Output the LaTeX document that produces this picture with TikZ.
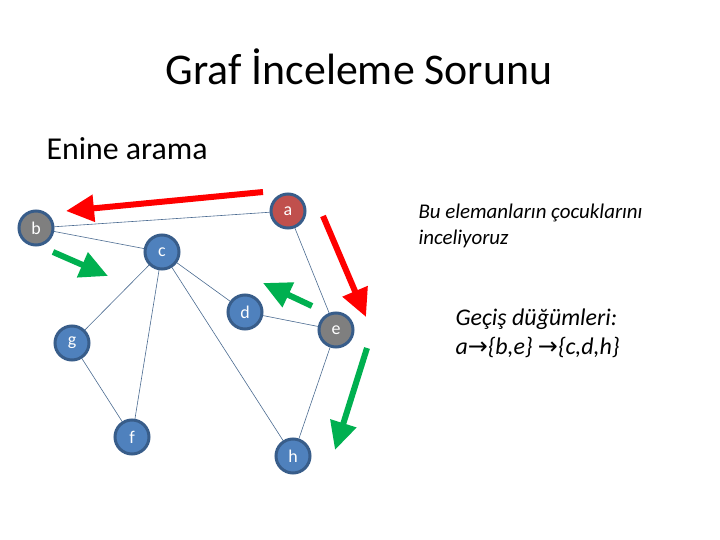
\documentclass[tikz,border=0pt]{standalone}
\usepackage{fontspec}
\setmainfont{Carlito}
\newfontfamily\arrowfont{DejaVu Sans}
\usetikzlibrary{arrows.meta}

\definecolor{nodeblue}{HTML}{4F81BD}
\definecolor{nodeline}{HTML}{385D8A}
\definecolor{nodegray}{HTML}{7F7F7F}
\definecolor{nodered}{HTML}{C0504D}
\definecolor{edgeblue}{HTML}{4A6A90}
\definecolor{arrowred}{HTML}{FF0000}
\definecolor{arrowgreen}{HTML}{00B050}

\tikzset{
    vertex/.style={circle, draw=nodeline, line width=3bp, fill=nodeblue,
        minimum size=34bp, inner sep=0pt, text=white, font=\fontsize{18}{20}\selectfont},
    visited/.style={vertex, fill=nodegray},
    start/.style={vertex, fill=nodered},
    edge/.style={draw=edgeblue, line width=0.6bp},
    bigarrow/.style={line width=6bp, -{Triangle[length=28bp, width=26bp]}},
}

\begin{document}
\begin{tikzpicture}[x=1bp, y=-1bp]
    % sayfa sınırı (720 x 540)
    \useasboundingbox (0,0) rectangle (720,540);

    % başlıklar
    \node[anchor=base, font=\fontsize{44}{52}\selectfont] (title) at (359,85) {Graf İnceleme Sorunu};
    \node[anchor=base west, font=\fontsize{32}{38}\selectfont] (sub) at (43,160) {Enine arama};

    % düğümler
    \node[start]   (a) at (288,211) {a};
    \node[visited] (b) at (36,228)  {b};
    \node[vertex]  (c) at (162,252) {c};
    \node[vertex]  (d) at (245,312) {d};
    \node[visited] (e) at (336,330) {e};
    \node[vertex]  (g) at (72,343)  {g};
    \node[vertex]  (f) at (132,437) {f};
    \node[vertex]  (h) at (293,456) {h};

    % kenarlar
    \draw[edge] (a) -- (b);
    \draw[edge] (a) -- (e);
    \draw[edge] (b) -- (c);
    \draw[edge] (c) -- (g);
    \draw[edge] (c) -- (f);
    \draw[edge] (c) -- (d);
    \draw[edge] (c) -- (h);
    \draw[edge] (d) -- (e);
    \draw[edge] (g) -- (f);
    \draw[edge] (e) -- (h);

    % kırmızı oklar (a'nın çocukları)
    \coordinate (r1s) at (263,192);
    \coordinate (r1t) at (66,211);
    \coordinate (r2s) at (323,216);
    \coordinate (r2t) at (366,317);
    \draw[bigarrow, arrowred] (r1s) -- (r1t);
    \draw[bigarrow, arrowred] (r2s) -- (r2t);

    % yeşil oklar (b ve e'nin çocukları)
    \coordinate (g1s) at (53,252);
    \coordinate (g1t) at (108,276);
    \coordinate (g2s) at (312,306);
    \coordinate (g2t) at (263,283);
    \coordinate (g3s) at (367,348);
    \coordinate (g3t) at (335,450);
    \draw[bigarrow, arrowgreen] (g1s) -- (g1t);
    \draw[bigarrow, arrowgreen] (g2s) -- (g2t);
    \draw[bigarrow, arrowgreen] (g3s) -- (g3t);

    % açıklamalar (base = son satırın taban çizgisi)
    \node[anchor=base west, align=left, font=\itshape\fontsize{21}{27}\selectfont]
        (note1) at (415,245) {Bu elemanların çocuklarını\\inceliyoruz};
    \node[anchor=base west, align=left, font=\itshape\fontsize{24}{29}\selectfont]
        (note2) at (452,354) {Geçiş düğümleri:\\a{\arrowfont\symbol{"2192}}\{b,e\} {\arrowfont\symbol{"2192}}\{c,d,h\}};
\end{tikzpicture}
\end{document}
